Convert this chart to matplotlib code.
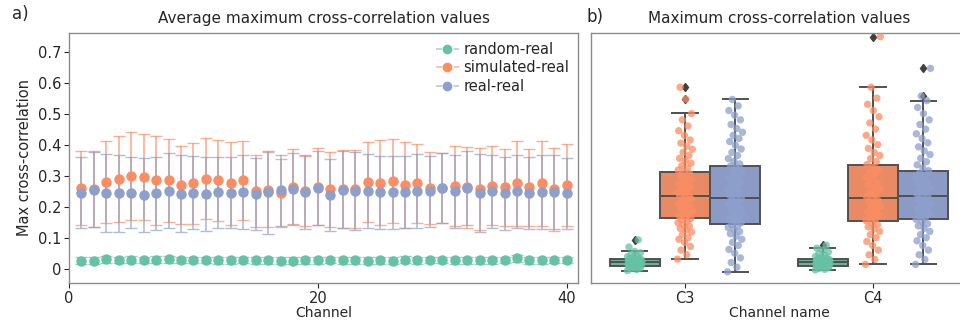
import numpy as np
import matplotlib
matplotlib.use("Agg")
import matplotlib.pyplot as plt
from matplotlib.lines import Line2D
from matplotlib.ticker import FuncFormatter

plt.rcParams['font.family'] = ['DejaVu Sans']

# ---------------- Panel a data ----------------
channels = list(range(1, 41))
series_names = ["random-real", "simulated-real", "real-real"]

random_mean = [0.026, 0.026, 0.030, 0.028, 0.029, 0.028, 0.029, 0.030, 0.028, 0.028,
               0.028, 0.027, 0.027, 0.028, 0.027, 0.027, 0.026, 0.026, 0.027, 0.027,
               0.028, 0.027, 0.027, 0.026, 0.027, 0.026, 0.029, 0.027, 0.028, 0.028,
               0.027, 0.027, 0.027, 0.027, 0.028, 0.033, 0.027, 0.027, 0.028, 0.028]
random_std = [0.011] * 40

sim_mean = [0.259, 0.258, 0.280, 0.290, 0.300, 0.295, 0.285, 0.285, 0.270, 0.275,
            0.290, 0.285, 0.275, 0.285, 0.250, 0.255, 0.245, 0.265, 0.250, 0.265,
            0.256, 0.257, 0.256, 0.280, 0.278, 0.283, 0.269, 0.275, 0.260, 0.260,
            0.267, 0.262, 0.257, 0.268, 0.262, 0.275, 0.262, 0.275, 0.256, 0.270]
sim_std = [0.119, 0.122, 0.131, 0.138, 0.142, 0.139, 0.143, 0.134, 0.127, 0.130,
           0.130, 0.130, 0.133, 0.127, 0.116, 0.121, 0.110, 0.121, 0.113, 0.125,
           0.120, 0.125, 0.126, 0.130, 0.136, 0.136, 0.138, 0.128, 0.116, 0.113,
           0.130, 0.130, 0.131, 0.127, 0.125, 0.137, 0.124, 0.136, 0.133, 0.133]

real_mean = [0.245, 0.255, 0.245, 0.243, 0.245, 0.238, 0.243, 0.252, 0.242, 0.245,
             0.240, 0.246, 0.245, 0.248, 0.240, 0.246, 0.253, 0.257, 0.248, 0.260,
             0.238, 0.255, 0.250, 0.250, 0.247, 0.247, 0.247, 0.250, 0.250, 0.260,
             0.250, 0.260, 0.244, 0.250, 0.243, 0.250, 0.244, 0.248, 0.248, 0.243]
real_std = [0.115, 0.121, 0.125, 0.123, 0.115, 0.118, 0.117, 0.120, 0.125, 0.117,
            0.119, 0.114, 0.115, 0.120, 0.116, 0.134, 0.114, 0.117, 0.119, 0.120,
            0.116, 0.125, 0.125, 0.120, 0.118, 0.118, 0.117, 0.120, 0.115, 0.113,
            0.118, 0.120, 0.125, 0.118, 0.118, 0.118, 0.117, 0.120, 0.120, 0.115]

y_ticks = [0, 0.1, 0.2, 0.3, 0.4, 0.5, 0.6, 0.7]
x_ticks = [0, 20, 40]

# ---------------- Panel b data ----------------
channel_names = ["C3", "C4"]

c3_random = [-0.006, -0.003, 0.000, 0.002, 0.004, 0.006, 0.008, 0.009, 0.010, 0.011,
             0.012, 0.013, 0.014, 0.015, 0.016, 0.017, 0.018, 0.019, 0.020, 0.021,
             0.021, 0.022, 0.023, 0.024, 0.025, 0.026, 0.027, 0.028, 0.029, 0.030,
             0.031, 0.032, 0.034, 0.036, 0.039, 0.042, 0.046, 0.051, 0.056, 0.070, 0.093]
c3_sim = [0.031, 0.045, 0.060, 0.072, 0.085, 0.095, 0.100, 0.110, 0.118, 0.125,
          0.130, 0.137, 0.142, 0.148, 0.153, 0.158, 0.162, 0.166, 0.170, 0.175,
          0.180, 0.185, 0.190, 0.195, 0.200, 0.205, 0.210, 0.215, 0.220, 0.225,
          0.230, 0.234, 0.238, 0.242, 0.247, 0.252, 0.257, 0.262, 0.268, 0.273,
          0.278, 0.283, 0.288, 0.294, 0.300, 0.306, 0.312, 0.318, 0.325, 0.332,
          0.340, 0.348, 0.356, 0.365, 0.375, 0.385, 0.395, 0.405, 0.415, 0.430,
          0.445, 0.460, 0.480, 0.500, 0.547, 0.585]
c3_real = [-0.010, 0.005, 0.020, 0.035, 0.050, 0.062, 0.075, 0.085, 0.095, 0.105,
           0.113, 0.120, 0.127, 0.133, 0.138, 0.143, 0.148, 0.154, 0.160, 0.166,
           0.172, 0.178, 0.184, 0.190, 0.196, 0.202, 0.208, 0.214, 0.220, 0.225,
           0.230, 0.236, 0.242, 0.248, 0.255, 0.262, 0.270, 0.278, 0.285, 0.292,
           0.300, 0.308, 0.316, 0.324, 0.331, 0.338, 0.346, 0.355, 0.365, 0.375,
           0.386, 0.398, 0.410, 0.420, 0.430, 0.440, 0.452, 0.465, 0.480, 0.495,
           0.510, 0.525, 0.546]
c4_random = [-0.004, -0.002, 0.001, 0.003, 0.005, 0.007, 0.008, 0.009, 0.010, 0.011,
             0.012, 0.013, 0.014, 0.015, 0.016, 0.017, 0.018, 0.019, 0.020, 0.021,
             0.021, 0.022, 0.023, 0.024, 0.025, 0.026, 0.027, 0.028, 0.029, 0.030,
             0.031, 0.032, 0.034, 0.037, 0.040, 0.044, 0.049, 0.054, 0.060, 0.066, 0.076]
c4_sim = [0.014, 0.030, 0.045, 0.060, 0.075, 0.088, 0.100, 0.110, 0.120, 0.128,
          0.135, 0.142, 0.148, 0.155, 0.160, 0.166, 0.172, 0.178, 0.184, 0.190,
          0.196, 0.202, 0.208, 0.214, 0.220, 0.227, 0.233, 0.240, 0.247, 0.255,
          0.263, 0.271, 0.279, 0.287, 0.295, 0.303, 0.311, 0.319, 0.327, 0.336,
          0.345, 0.355, 0.365, 0.375, 0.388, 0.400, 0.415, 0.430, 0.450, 0.470,
          0.490, 0.510, 0.530, 0.550, 0.585, 0.748]
c4_real = [0.014, 0.030, 0.045, 0.060, 0.075, 0.090, 0.100, 0.110, 0.120, 0.130,
           0.138, 0.145, 0.152, 0.159, 0.165, 0.171, 0.177, 0.183, 0.190, 0.197,
           0.204, 0.211, 0.218, 0.224, 0.230, 0.236, 0.242, 0.248, 0.254, 0.260,
           0.266, 0.272, 0.279, 0.286, 0.293, 0.300, 0.308, 0.316, 0.325, 0.335,
           0.345, 0.356, 0.368, 0.380, 0.393, 0.406, 0.420, 0.435, 0.450, 0.465,
           0.480, 0.500, 0.520, 0.542, 0.557, 0.646]

# box statistics (C3 random, sim, real, C4 random, sim, real)
box_q1 = [0.010, 0.165, 0.143, 0.010, 0.155, 0.159]
box_med = [0.021, 0.236, 0.228, 0.021, 0.227, 0.236]
box_q3 = [0.032, 0.313, 0.331, 0.032, 0.336, 0.316]
box_lo = [-0.006, 0.031, -0.010, -0.004, 0.014, 0.014]
box_hi = [0.058, 0.501, 0.546, 0.066, 0.585, 0.542]
box_fliers = [[0.093], [0.547, 0.585], [], [0.076], [0.748], [0.557, 0.646]]

# ---------------- styling ----------------
set2 = ["#66c2a5", "#fc8d62", "#8da0cb"]
box_cols = ["#6fae97", "#e88a63", "#8b9bc6"]
text_col = "#262626"
spine_col = "#8c8c8c"

fig = plt.figure(figsize=(9.6, 3.2), dpi=100)
ax1 = fig.add_axes([69/960, 1-283/320, (578-69)/960, 250/320])
ax2 = fig.add_axes([591/960, 1-283/320, (967-591)/960, 250/320])

for ax in (ax1, ax2):
    for s in ax.spines.values():
        s.set_color(spine_col)
        s.set_linewidth(1.0)
    ax.tick_params(colors=text_col, labelsize=10.5, length=3.5, width=0.8, pad=2.0)
    for t in ax.get_xticklines() + ax.get_yticklines():
        t.set_color(spine_col)

ymin, ymax = -0.046, 0.76

# Panel a
ch = np.array(channels)
for mean, std, col in [(random_mean, random_std, set2[0]),
                       (sim_mean, sim_std, set2[1]),
                       (real_mean, real_std, set2[2])]:
    eb = ax1.errorbar(ch, mean, yerr=std, fmt='o', color=col, ms=6.5,
                      ecolor=col, elinewidth=1.2, capsize=4.5, capthick=1.0)
    for c in eb[1]:
        c.set_alpha(0.7)
    for c in eb[2]:
        c.set_alpha(0.7)

handles = []
for col in set2:
    ln = Line2D([], [], color=col, linestyle='--', alpha=0.6, lw=1.2)
    mk = Line2D([], [], color=col, marker='o', linestyle='none', ms=6)
    handles.append((ln, mk))
ax1.legend(handles, series_names, loc='upper right', frameon=False, fontsize=10.5,
           handlelength=1.6, handletextpad=0.3, borderaxespad=0.2, labelspacing=0.25,
           bbox_to_anchor=(1.0, 1.0), labelcolor=text_col)

ax1.set_xlim(0, 40.9)
ax1.set_ylim(ymin, ymax)
ax1.set_yticks(y_ticks)
ax1.yaxis.set_major_formatter(FuncFormatter(lambda v, p: f"{v:g}"))
ax1.set_xticks(x_ticks)
ax1.set_xlabel("Channel", fontsize=10, color=text_col, labelpad=0.5)
ax1.set_ylabel("Max cross-correlation", fontsize=10.5, color=text_col)
ax1.set_title("Average maximum cross-correlation values", fontsize=11, color=text_col, pad=7)

# Panel b
groups = [c3_random, c3_sim, c3_real, c4_random, c4_sim, c4_real]
hue_w = 0.8 / 3
positions = []
for ci in range(len(channel_names)):
    for hi in range(3):
        positions.append(ci + (hi - 1) * hue_w)

stats = []
for i in range(6):
    stats.append(dict(med=box_med[i], q1=box_q1[i], q3=box_q3[i],
                      whislo=box_lo[i], whishi=box_hi[i], fliers=box_fliers[i]))
edge = "#505050"
bp = ax2.bxp(stats, positions=positions, widths=hue_w, capwidths=hue_w / 2,
             patch_artist=True, showfliers=True, manage_ticks=False,
             boxprops=dict(edgecolor=edge, linewidth=1.4),
             medianprops=dict(color=edge, linewidth=1.4),
             whiskerprops=dict(color=edge, linewidth=1.4),
             capprops=dict(color=edge, linewidth=1.4),
             flierprops=dict(marker='d', markerfacecolor='#404040', markeredgecolor='#404040',
                             markersize=4.5))
for i, patch in enumerate(bp['boxes']):
    patch.set_facecolor(box_cols[i % 3])
    patch.set_zorder(2)

golden = 0.6180339887
for i, vals in enumerate(groups):
    n = len(vals)
    jit = np.array([((k * golden) % 1.0) - 0.5 for k in range(n)]) * 0.08
    ax2.scatter(positions[i] + jit, vals, s=28, color=set2[i % 3], alpha=0.75,
                edgecolors='none', zorder=3)

ax2.set_xlim(-0.5, 1.5)
ax2.set_ylim(ymin, ymax)
ax2.set_xticks(range(len(channel_names)))
ax2.set_xticklabels(channel_names)
ax2.set_yticks([])
ax2.set_xlabel("Channel name", fontsize=10, color=text_col, labelpad=0.5)
ax2.set_title("Maximum cross-correlation values", fontsize=11, color=text_col, pad=7)

fig.text(12/960, 1-14/320, "a)", fontsize=12, color=text_col, va='center', ha='left')
fig.text(586/960, 1-17/320, "b)", fontsize=12, color=text_col, va='center', ha='left')

fig.savefig("out.png", dpi=100)
